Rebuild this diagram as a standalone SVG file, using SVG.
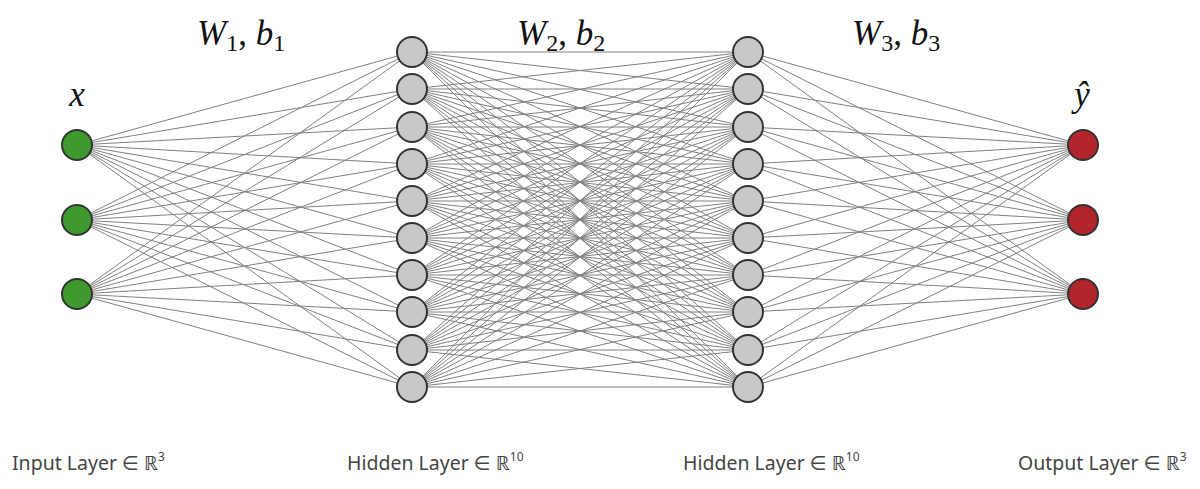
<svg xmlns="http://www.w3.org/2000/svg" width="1200" height="489" viewBox="0 0 1200 489">
<style>
.e{stroke:#808080;stroke-width:1;fill:none}
.n{stroke:#333;stroke-width:2}
.in{fill:#3f9a2e}
.hd{fill:#c8c8c8}
.out{fill:#b2262b}
.m{font-family:"Liberation Serif","DejaVu Serif",serif;font-style:italic;font-size:35px;fill:#111}
.s{font-style:normal;font-size:24px}
.lb{font-family:"Noto Sans","Open Sans","DejaVu Sans",sans-serif;font-size:19.5px;fill:#444}
.sup{font-size:12px}
</style>
<rect width="1200" height="489" fill="#fff"/>
<g id="connectors">
<path class="e" d="M77 145L412 52M77 145L412 89M77 145L412 127M77 145L412 164M77 145L412 201M77 145L412 238M77 145L412 275M77 145L412 312M77 145L412 350M77 145L412 387"/>
<path class="e" d="M77 220L412 52M77 220L412 89M77 220L412 127M77 220L412 164M77 220L412 201M77 220L412 238M77 220L412 275M77 220L412 312M77 220L412 350M77 220L412 387"/>
<path class="e" d="M77 294L412 52M77 294L412 89M77 294L412 127M77 294L412 164M77 294L412 201M77 294L412 238M77 294L412 275M77 294L412 312M77 294L412 350M77 294L412 387"/>
<path class="e" d="M412 52L748 52M412 52L748 89M412 52L748 127M412 52L748 164M412 52L748 201M412 52L748 238M412 52L748 275M412 52L748 312M412 52L748 350M412 52L748 387"/>
<path class="e" d="M412 89L748 52M412 89L748 89M412 89L748 127M412 89L748 164M412 89L748 201M412 89L748 238M412 89L748 275M412 89L748 312M412 89L748 350M412 89L748 387"/>
<path class="e" d="M412 127L748 52M412 127L748 89M412 127L748 127M412 127L748 164M412 127L748 201M412 127L748 238M412 127L748 275M412 127L748 312M412 127L748 350M412 127L748 387"/>
<path class="e" d="M412 164L748 52M412 164L748 89M412 164L748 127M412 164L748 164M412 164L748 201M412 164L748 238M412 164L748 275M412 164L748 312M412 164L748 350M412 164L748 387"/>
<path class="e" d="M412 201L748 52M412 201L748 89M412 201L748 127M412 201L748 164M412 201L748 201M412 201L748 238M412 201L748 275M412 201L748 312M412 201L748 350M412 201L748 387"/>
<path class="e" d="M412 238L748 52M412 238L748 89M412 238L748 127M412 238L748 164M412 238L748 201M412 238L748 238M412 238L748 275M412 238L748 312M412 238L748 350M412 238L748 387"/>
<path class="e" d="M412 275L748 52M412 275L748 89M412 275L748 127M412 275L748 164M412 275L748 201M412 275L748 238M412 275L748 275M412 275L748 312M412 275L748 350M412 275L748 387"/>
<path class="e" d="M412 312L748 52M412 312L748 89M412 312L748 127M412 312L748 164M412 312L748 201M412 312L748 238M412 312L748 275M412 312L748 312M412 312L748 350M412 312L748 387"/>
<path class="e" d="M412 350L748 52M412 350L748 89M412 350L748 127M412 350L748 164M412 350L748 201M412 350L748 238M412 350L748 275M412 350L748 312M412 350L748 350M412 350L748 387"/>
<path class="e" d="M412 387L748 52M412 387L748 89M412 387L748 127M412 387L748 164M412 387L748 201M412 387L748 238M412 387L748 275M412 387L748 312M412 387L748 350M412 387L748 387"/>
<path class="e" d="M1083 145L748 52M1083 145L748 89M1083 145L748 127M1083 145L748 164M1083 145L748 201M1083 145L748 238M1083 145L748 275M1083 145L748 312M1083 145L748 350M1083 145L748 387"/>
<path class="e" d="M1083 220L748 52M1083 220L748 89M1083 220L748 127M1083 220L748 164M1083 220L748 201M1083 220L748 238M1083 220L748 275M1083 220L748 312M1083 220L748 350M1083 220L748 387"/>
<path class="e" d="M1083 294L748 52M1083 294L748 89M1083 294L748 127M1083 294L748 164M1083 294L748 201M1083 294L748 238M1083 294L748 275M1083 294L748 312M1083 294L748 350M1083 294L748 387"/>
</g>
<g id="input-layer">
<circle class="n in" cx="77" cy="145" r="15"/>
<circle class="n in" cx="77" cy="220" r="15"/>
<circle class="n in" cx="77" cy="294" r="15"/>
</g>
<g id="hidden-layer-1">
<circle class="n hd" cx="412" cy="52" r="15"/>
<circle class="n hd" cx="412" cy="89" r="15"/>
<circle class="n hd" cx="412" cy="127" r="15"/>
<circle class="n hd" cx="412" cy="164" r="15"/>
<circle class="n hd" cx="412" cy="201" r="15"/>
<circle class="n hd" cx="412" cy="238" r="15"/>
<circle class="n hd" cx="412" cy="275" r="15"/>
<circle class="n hd" cx="412" cy="312" r="15"/>
<circle class="n hd" cx="412" cy="350" r="15"/>
<circle class="n hd" cx="412" cy="387" r="15"/>
</g>
<g id="hidden-layer-2">
<circle class="n hd" cx="748" cy="52" r="15"/>
<circle class="n hd" cx="748" cy="89" r="15"/>
<circle class="n hd" cx="748" cy="127" r="15"/>
<circle class="n hd" cx="748" cy="164" r="15"/>
<circle class="n hd" cx="748" cy="201" r="15"/>
<circle class="n hd" cx="748" cy="238" r="15"/>
<circle class="n hd" cx="748" cy="275" r="15"/>
<circle class="n hd" cx="748" cy="312" r="15"/>
<circle class="n hd" cx="748" cy="350" r="15"/>
<circle class="n hd" cx="748" cy="387" r="15"/>
</g>
<g id="output-layer">
<circle class="n out" cx="1083" cy="145" r="15"/>
<circle class="n out" cx="1083" cy="220" r="15"/>
<circle class="n out" cx="1083" cy="294" r="15"/>
</g>
<g id="math-labels">
<text class="m" x="77" y="106" text-anchor="middle" font-size="44">x</text>
<text class="m" x="1082" y="106" text-anchor="middle" font-size="44">ŷ</text>
<text class="m" x="197" y="45">W<tspan class="s" dy="6">1</tspan><tspan dy="-6" font-style="normal">, </tspan>b<tspan class="s" dy="6">1</tspan></text>
<text class="m" x="517" y="45">W<tspan class="s" dy="6">2</tspan><tspan dy="-6" font-style="normal">, </tspan>b<tspan class="s" dy="6">2</tspan></text>
<text class="m" x="852" y="45">W<tspan class="s" dy="6">3</tspan><tspan dy="-6" font-style="normal">, </tspan>b<tspan class="s" dy="6">3</tspan></text>
</g>
<g id="layer-labels">
<text class="lb" x="12" y="470">Input Layer ∈ ℝ<tspan class="sup" dy="-9">3</tspan></text>
<text class="lb" x="347" y="470">Hidden Layer ∈ ℝ<tspan class="sup" dy="-9">10</tspan></text>
<text class="lb" x="683" y="470">Hidden Layer ∈ ℝ<tspan class="sup" dy="-9">10</tspan></text>
<text class="lb" x="1018" y="470">Output Layer ∈ ℝ<tspan class="sup" dy="-9">3</tspan></text>
</g>
</svg>
